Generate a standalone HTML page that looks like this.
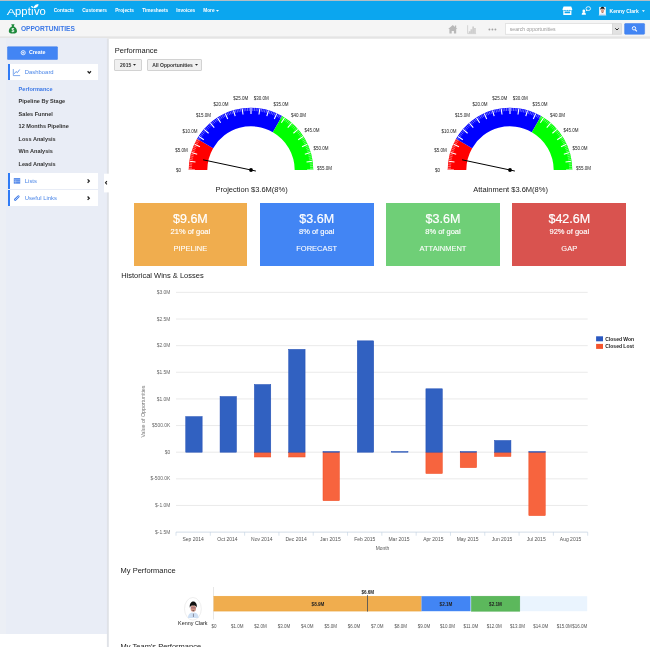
<!DOCTYPE html>
<html lang="en"><head><meta charset="utf-8"><title>Opportunities - Performance</title>
<style>
html,body{margin:0;padding:0}
#wrap{position:absolute;left:0;top:0;width:650px;height:647px;overflow:hidden;will-change:transform}
body{width:650px;height:647px;overflow:hidden;position:relative;background:#fff;font-family:"Liberation Sans",sans-serif;color:#222}
*{box-sizing:border-box}
.abs{position:absolute}
#top{left:0;top:0;width:650px;height:20px;background:#0ba6ef;border-top:1px solid #b3bec4}
#nav a{position:absolute;top:7px;height:7px;line-height:7px;font-size:4.75px;font-weight:bold;color:#fff;white-space:nowrap;text-decoration:none}
#sub{left:0;top:20px;width:650px;height:17px;background:#f5f5f5}
#side{left:0;top:38px;width:107px;height:596px;background:#e9edf6;border-left:6px solid #eceff5}
.create{z-index:2;left:7.4px;top:46px;width:50.1px;height:13px;color:#fff;font-size:5.3px;font-weight:bold;line-height:13.6px;text-align:left;padding-left:21.5px}
.mrow{left:7.5px;width:90.7px;background:#fff;border-left:2px solid #2f7bf6;color:#4a86e8;font-size:5.9px}
.mrow span{position:absolute;left:15.3px;top:0}
.sm{left:18.6px;height:8px;line-height:8px;font-size:5.55px;font-weight:bold;color:#333;white-space:nowrap}
.btn{top:58.6px;height:12.6px;background:#f0f0f0;border:0.7px solid #d2d2d2;border-radius:1px;font-size:5px;font-weight:bold;color:#333;line-height:11.4px;text-align:center;white-space:nowrap}
.car{display:inline-block;vertical-align:0.4px;margin-left:0.3px}
.h{font-size:7.5px;line-height:10px;height:10px;color:#1a1a1a;white-space:nowrap}
.tile{top:202.6px;width:113.8px;height:63.3px;color:#fff;text-align:center}
.tile b{display:block;position:absolute;left:0;width:100%;font-weight:normal;white-space:nowrap}
.tile .v{-webkit-text-stroke:0.2px #fff;top:9.1px;font-size:12.5px;line-height:15px}
.tile .p{-webkit-text-stroke:0.14px #fff;top:24.1px;font-size:7.5px;line-height:10px}
.tile .n{-webkit-text-stroke:0.08px #fff;top:41.8px;font-size:7.5px;line-height:10px}
svg text{font-family:"Liberation Sans",sans-serif}
</style></head><body>
<div id="wrap">

<div id="top" class="abs"></div>
<svg class="abs" style="left:0;top:0" width="120" height="20" viewBox="0 0 120 20">
 <text x="6.700" y="15.200" font-size="9.600" fill="#fff" textLength="8.800" lengthAdjust="spacingAndGlyphs">A</text>
 <text x="15.100" y="15.200" font-size="11.400" fill="#fff" textLength="30.700" lengthAdjust="spacingAndGlyphs">ppt&#305;vo</text>
 <path d="M33.900 8.300C33.500 6.200 35.400 4.300 38.500 4.100C38.600 6.600 36.700 8.200 33.900 8.300Z" fill="#fff"/>
 <path d="M30.900 6C32.600 5.900 33.700 6.800 33.700 8.100C32.200 8.100 31 7.400 30.900 6Z" fill="#fff"/>
</svg>
<div id="nav">
 <a style="left:53.7px">Contacts</a><a style="left:82.2px">Customers</a><a style="left:115.2px">Projects</a>
 <a style="left:142.2px">Timesheets</a><a style="left:176.2px">Invoices</a><a style="left:203.2px">More <svg class="car" width="3" height="2" viewBox="0 0 3 2"><path d="M0 0h3l-1.500 1.800z" fill="#fff"/></svg></a>
</div>
<svg class="abs" style="left:555px;top:0" width="95" height="20" viewBox="555 0 95 20">
 <!-- store -->
 <path d="M563.6 6.6h7.6l1.1 2.6c0 .9-.6 1.4-1.3 1.4-.6 0-1.2-.5-1.2-1.1 0 .6-.6 1.1-1.2 1.1s-1.2-.5-1.2-1.1c0 .6-.6 1.1-1.2 1.1s-1.2-.5-1.2-1.1c0 .6-.6 1.1-1.2 1.1-.7 0-1.3-.5-1.3-1.4zM563.3 11h8.1v3.9h-8.1zM564.6 11.6v1.7h5.5v-1.7z" fill="#fff" fill-rule="evenodd"/>
 <!-- user bubble -->
 <circle cx="583.800" cy="10.900" r="1.350" fill="#fff"/><path d="M581.700 14.700c0-1.800.900-2.600 2.100-2.600s2.100.800 2.100 2.600z" fill="#fff"/>
 <ellipse cx="588.3" cy="8.6" rx="2.3" ry="1.9" fill="none" stroke="#fff" stroke-width="0.8"/><path d="M586.4 9.8l-.9 1.6 1.9-.8z" fill="#fff"/>
 <!-- avatar -->
 <rect x="599.2" y="6.9" width="6.6" height="8.1" fill="#fff"/>
 <g transform="translate(602.500 11.300) scale(0.640)">
  <path d="M-6 6.6C-6 4.6 -3 3.6 0 3.6C3 3.6 6 4.6 6 6.6Z" fill="#cfe0f4"/>
  <ellipse cx="0" cy="-0.6" rx="2.6" ry="3.2" fill="#d9a08c"/>
  <path d="M-1.2 1.2Q0 3.4 1.2 1.2Q0 2 -1.2 1.2Z" fill="#3a2a25"/>
  <path d="M-3.5 -1.4C-3.9 -5.6 -1.6 -7.2 0 -7.2C1.6 -7.2 3.9 -5.6 3.5 -1.4C3 -3.4 2 -4 0 -4C-2 -4 -3 -3.4 -3.5 -1.4Z" fill="#111"/>
 </g>
 <text x="609.6" y="12.5" font-size="5" font-weight="bold" fill="#fff">Kenny Clark</text>
 <path d="M641.9 10.2h3l-1.5 1.7z" fill="#fff"/>
</svg>

<div id="sub" class="abs"></div>
<svg class="abs" style="left:0;top:20px" width="650" height="20" viewBox="0 20 650 20">
 <defs><linearGradient id="sh" x1="0" y1="0" x2="0" y2="1"><stop offset="0" stop-color="#dfdfdf"/><stop offset="1" stop-color="#ebebeb"/></linearGradient></defs>
 <rect x="0" y="36.500" width="650" height="2.400" fill="url(#sh)"/>
 <!-- money bag -->
 <path d="M11.2 24.2h3.4l-.9 2.1c2 1 3.3 3 3.3 4.9 0 1.700-1.300 2.400-4.100 2.400s-4.100-.700-4.100-2.400c0-1.900 1.300-3.900 3.300-4.900z" fill="#1e8a3c"/>
 <text x="12.9" y="32.2" font-size="5" font-weight="bold" fill="#fff" text-anchor="middle">$</text>
 <text x="20.9" y="30.6" font-size="6.6" font-weight="bold" fill="#3b78e7" textLength="54" lengthAdjust="spacingAndGlyphs">OPPORTUNITIES</text>
 <!-- home -->
 <path d="M452.800 25l2.100 1.900v-1.300h1.300v2.450l1.200 1.050h-1.200v4.500h-2.300v-2.700h-2.200v2.700h-2.300v-4.500h-1.200z" fill="#b9b9b9"/>
 <!-- chart -->
 <path d="M467.600 25.200v8.400h8.500" fill="none" stroke="#c8c8c8" stroke-width="0.700"/>
 <path d="M468.700 31.200h1.700v2.200h-1.700zM470.500 29.300h1.700v4.100h-1.700zM472.300 26.600h1.700v6.800h-1.700zM474.100 28h1.700v5.400h-1.700z" fill="#cecece"/>
 <circle cx="489.400" cy="29.500" r="0.950" fill="#a3a3a3"/><circle cx="492.400" cy="29.500" r="0.950" fill="#a3a3a3"/><circle cx="495.400" cy="29.500" r="0.950" fill="#a3a3a3"/>
 <!-- search -->
 <rect x="505.500" y="23.700" width="107" height="10.500" fill="#fff" stroke="#d6d6d6" stroke-width="0.6"/>
 <text x="509.800" y="30.600" font-size="5.100" fill="#999">search opportunities</text>
 <rect x="612.500" y="23.700" width="9" height="10.500" fill="#e2e2e2" stroke="#d0d0d0" stroke-width="0.600"/>
 <path d="M615.300 28.300l1.700 1.700 1.700-1.700" fill="none" stroke="#222" stroke-width="1"/>
 <rect x="624.600" y="23.500" width="20" height="10.800" rx="0.800" fill="#4285f4" stroke="#3b78e7" stroke-width="0.500"/>
 <circle cx="634" cy="28.300" r="1.700" fill="none" stroke="#fff" stroke-width="0.900"/><path d="M635.200 29.600l1.700 1.800" stroke="#fff" stroke-width="1.100"/>
</svg>

<div id="side" class="abs"></div>
<svg class="abs" style="left:105px;top:38px" width="5" height="609" viewBox="105 38 5 609"><rect x="106.900" y="38.800" width="1.900" height="609" fill="#dfe2e7"/></svg>
<div class="abs create">Create</div>
<div class="abs mrow" style="top:64.2px;height:16px;line-height:16px"><span>Dashboard</span></div>
<div class="abs mrow" style="top:173.400px;height:15.400px;line-height:17.400px"><span>Lists</span></div>
<div class="abs mrow" style="top:190px;height:16px;line-height:16.400px"><span>Useful Links</span></div>
<svg class="abs" style="left:0;top:40px" width="110" height="170" viewBox="0 40 110 170">
 <!-- create icon -->
 <rect x="7.500" y="46.700" width="50" height="12.800" rx="0.500" fill="#4285f4" stroke="#3b7bea" stroke-width="0.500"/>
 <circle cx="23.200" cy="52.700" r="2.100" fill="none" stroke="#fff" stroke-width="0.800"/><path d="M22.100 52.700h2.200M23.200 51.600v2.200" stroke="#fff" stroke-width="0.700"/>
 <!-- dashboard icon -->
 <path d="M13.300 69v6.600h6.800" fill="none" stroke="#4a86e8" stroke-width="0.7"/>
 <path d="M14.300 73.800l1.700-2.300 1.400 1.200 2.300-3.200" fill="none" stroke="#4a86e8" stroke-width="0.800"/>
 <path d="M87.600 71.300l1.700 1.700 1.700-1.700" fill="none" stroke="#222" stroke-width="1.250"/>
 <!-- lists icon -->
 <rect x="13.800" y="178.200" width="6.400" height="5.400" fill="#3b78e7"/>
 <path d="M13.800 179.900h6.400M13.800 181.800h6.400" stroke="#fff" stroke-width="0.550"/><path d="M15.700 179.900v3.700" stroke="#fff" stroke-width="0.250"/>
 <path d="M87.600 179.400l1.700 1.700-1.700 1.700" fill="none" stroke="#222" stroke-width="1.250"/>
 <!-- link icon -->
 <path d="M15.200 199.700l3.200-3.200" stroke="#3b78e7" stroke-width="2.400" stroke-linecap="round"/>
 <path d="M15.200 199.700l3.200-3.200" stroke="#fff" stroke-width="0.700" stroke-linecap="round"/>
 <path d="M87.600 196.500l1.700 1.700-1.700 1.700" fill="none" stroke="#222" stroke-width="1.250"/>
 <!-- collapse handle -->
 <rect x="104" y="173.700" width="5" height="18.700" fill="#fff"/>
 <path d="M106.900 181.200l-1.400 1.600 1.400 1.600" fill="none" stroke="#222" stroke-width="1.100"/>
</svg>
<div class="abs sm" style="top:84.600px;color:#3b78e7">Performance</div>
<div class="abs sm" style="top:97.100px">Pipeline By Stage</div>
<div class="abs sm" style="top:109.500px">Sales Funnel</div>
<div class="abs sm" style="top:122px">12 Months Pipeline</div>
<div class="abs sm" style="top:134.500px">Loss Analysis</div>
<div class="abs sm" style="top:146.900px">Win Analysis</div>
<div class="abs sm" style="top:159.600px">Lead Analysis</div>

<div class="abs h" style="left:114.800px;top:46px">Performance</div>
<div class="abs btn" style="left:114.400px;width:27.200px">2015 <svg class="car" width="3" height="2" viewBox="0 0 3 2"><path d="M0 0h3l-1.500 1.800z" fill="#222"/></svg></div>
<div class="abs btn" style="left:147.300px;width:55.200px">All Opportunities <svg class="car" width="3" height="2" viewBox="0 0 3 2"><path d="M0 0h3l-1.500 1.800z" fill="#222"/></svg></div>

<div class="abs tile" style="left:133.500px;background:#f0ad4e"><b class="v">$9.6M</b><b class="p">21% of goal</b><b class="n">PIPELINE</b></div>
<div class="abs tile" style="left:259.800px;background:#4285f4"><b class="v">$3.6M</b><b class="p">8% of goal</b><b class="n">FORECAST</b></div>
<div class="abs tile" style="left:386.100px;background:#6fcf77"><b class="v">$3.6M</b><b class="p">8% of goal</b><b class="n">ATTAINMENT</b></div>
<div class="abs tile" style="left:512.400px;background:#d9534f"><b class="v">$42.6M</b><b class="p">92% of goal</b><b class="n">GAP</b></div>

<div class="abs h" style="left:121.200px;top:270.700px">Historical Wins &amp; Losses</div>
<div class="abs h" style="left:120.600px;top:566px">My Performance</div>
<div class="abs h" style="left:120.600px;top:642.100px">My Team's Performance</div>

<svg class="abs" style="left:0;top:0" width="650" height="647" viewBox="0 0 650 647">
<path d="M188.70 170.00A62.3 62.3 0 0 1 197.05 138.85L213.15 148.15A43.7 43.7 0 0 0 207.30 170.00Z" fill="#ff0000"/>
<path d="M197.05 138.85A62.3 62.3 0 0 1 282.15 116.05L272.85 132.15A43.7 43.7 0 0 0 213.15 148.15Z" fill="#0000ff"/>
<path d="M282.15 116.05A62.3 62.3 0 0 1 313.30 170.00L294.70 170.00A43.7 43.7 0 0 0 272.85 132.15Z" fill="#00ff00"/>
<path d="M189.03 168.23L191.92 168.31M189.10 166.46L192.00 166.63M189.23 164.69L192.12 164.94M189.40 162.93L192.29 163.26M189.91 159.43L192.77 159.92M190.23 157.69L193.08 158.26M190.61 155.96L193.44 156.61M191.04 154.24L193.84 154.98M192.03 150.84L194.79 151.74M192.61 149.16L195.34 150.14M193.22 147.51L195.93 148.56M193.89 145.87L196.56 146.99M195.36 142.64L197.96 143.92M196.17 141.07L198.73 142.42M197.01 139.51L199.54 140.94M197.91 137.98L200.39 139.48M199.82 135.00L202.21 136.64M200.84 133.56L203.19 135.26M201.90 132.14L204.20 133.91M203.00 130.75L205.25 132.59M205.32 128.08L207.46 130.04M206.54 126.79L208.62 128.81M207.79 125.54L209.81 127.62M209.08 124.32L211.04 126.46M211.75 122.00L213.59 124.25M213.14 120.90L214.91 123.20M214.56 119.84L216.26 122.19M216.00 118.82L217.64 121.21M218.98 116.91L220.48 119.39M220.51 116.01L221.94 118.54M222.07 115.17L223.42 117.73M223.64 114.36L224.92 116.96M226.87 112.89L227.99 115.56M228.51 112.22L229.56 114.93M230.16 111.61L231.14 114.34M231.84 111.03L232.74 113.79M235.24 110.04L235.98 112.84M236.96 109.61L237.61 112.44M238.69 109.23L239.26 112.08M240.43 108.91L240.92 111.77M243.93 108.40L244.26 111.29M245.69 108.23L245.94 111.12M247.46 108.10L247.63 111.00M249.23 108.03L249.31 110.92M252.77 108.03L252.69 110.92M254.54 108.10L254.37 111.00M256.31 108.23L256.06 111.12M258.07 108.40L257.74 111.29M261.57 108.91L261.08 111.77M263.31 109.23L262.74 112.08M265.04 109.61L264.39 112.44M266.76 110.04L266.02 112.84M270.16 111.03L269.26 113.79M271.84 111.61L270.86 114.34M273.49 112.22L272.44 114.93M275.13 112.89L274.01 115.56M278.36 114.36L277.08 116.96M279.93 115.17L278.58 117.73M281.49 116.01L280.06 118.54M283.02 116.91L281.52 119.39M286.00 118.82L284.36 121.21M287.44 119.84L285.74 122.19M288.86 120.90L287.09 123.20M290.25 122.00L288.41 124.25M292.92 124.32L290.96 126.46M294.21 125.54L292.19 127.62M295.46 126.79L293.38 128.81M296.68 128.08L294.54 130.04M299.00 130.75L296.75 132.59M300.10 132.14L297.80 133.91M301.16 133.56L298.81 135.26M302.18 135.00L299.79 136.64M304.09 137.98L301.61 139.48M304.99 139.51L302.46 140.94M305.83 141.07L303.27 142.42M306.64 142.64L304.04 143.92M308.11 145.87L305.44 146.99M308.78 147.51L306.07 148.56M309.39 149.16L306.66 150.14M309.97 150.84L307.21 151.74M310.96 154.24L308.16 154.98M311.39 155.96L308.56 156.61M311.77 157.69L308.92 158.26M312.09 159.43L309.23 159.92M312.60 162.93L309.71 163.26M312.77 164.69L309.88 164.94M312.90 166.46L310.00 166.63M312.97 168.23L310.08 168.31" stroke="#fff" stroke-width="0.55" stroke-opacity="0.75" fill="none"/>
<path d="M189.00 170.00L194.90 170.00M189.63 161.18L195.47 162.02M191.51 152.53L197.17 154.19M194.60 144.24L199.97 146.70M198.84 136.48L203.81 139.67M204.14 129.40L208.60 133.26M210.40 123.14L214.26 127.60M217.48 117.84L220.67 122.81M225.24 113.60L227.70 118.97M233.53 110.51L235.19 116.17M242.18 108.63L243.02 114.47M251.00 108.00L251.00 113.90M259.82 108.63L258.98 114.47M268.47 110.51L266.81 116.17M276.76 113.60L274.30 118.97M284.52 117.84L281.33 122.81M291.60 123.14L287.74 127.60M297.86 129.40L293.40 133.26M303.16 136.48L298.19 139.67M307.40 144.24L302.03 146.70M310.49 152.53L304.83 154.19M312.37 161.18L306.53 162.02M313.00 170.00L307.10 170.00" stroke="#fff" stroke-width="1.1" fill="none"/>
<text x="178.60" y="172.05" font-size="4.5" text-anchor="middle" fill="#222">$0</text>
<text x="181.53" y="151.65" font-size="4.5" text-anchor="middle" fill="#222">$5.0M</text>
<text x="190.09" y="132.89" font-size="4.5" text-anchor="middle" fill="#222">$10.0M</text>
<text x="203.59" y="117.29" font-size="4.5" text-anchor="middle" fill="#222">$15.0M</text>
<text x="220.92" y="106.09" font-size="4.5" text-anchor="middle" fill="#222">$20.0M</text>
<text x="240.70" y="100.19" font-size="4.5" text-anchor="middle" fill="#222">$25.0M</text>
<text x="261.30" y="100.05" font-size="4.5" text-anchor="middle" fill="#222">$30.0M</text>
<text x="281.08" y="105.65" font-size="4.5" text-anchor="middle" fill="#222">$35.0M</text>
<text x="298.41" y="116.53" font-size="4.5" text-anchor="middle" fill="#222">$40.0M</text>
<text x="311.91" y="131.76" font-size="4.5" text-anchor="middle" fill="#222">$45.0M</text>
<text x="320.97" y="150.07" font-size="4.5" text-anchor="middle" fill="#222">$50.0M</text>
<text x="324.40" y="169.95" font-size="4.5" text-anchor="middle" fill="#222">$55.0M</text>
<path d="M203.07 159.81L255.89 171.04" stroke="#000" stroke-width="1"/>
<circle cx="251" cy="170" r="1.9" fill="#000"/>
<text x="251.6" y="192.3" font-size="7.5" text-anchor="middle" fill="#222">Projection $3.6M(8%)</text>
<path d="M447.70 170.00A62.3 62.3 0 0 1 456.05 138.85L472.15 148.15A43.7 43.7 0 0 0 466.30 170.00Z" fill="#ff0000"/>
<path d="M456.05 138.85A62.3 62.3 0 0 1 541.15 116.05L531.85 132.15A43.7 43.7 0 0 0 472.15 148.15Z" fill="#0000ff"/>
<path d="M541.15 116.05A62.3 62.3 0 0 1 572.30 170.00L553.70 170.00A43.7 43.7 0 0 0 531.85 132.15Z" fill="#00ff00"/>
<path d="M448.03 168.23L450.92 168.31M448.10 166.46L451.00 166.63M448.23 164.69L451.12 164.94M448.40 162.93L451.29 163.26M448.91 159.43L451.77 159.92M449.23 157.69L452.08 158.26M449.61 155.96L452.44 156.61M450.04 154.24L452.84 154.98M451.03 150.84L453.79 151.74M451.61 149.16L454.34 150.14M452.22 147.51L454.93 148.56M452.89 145.87L455.56 146.99M454.36 142.64L456.96 143.92M455.17 141.07L457.73 142.42M456.01 139.51L458.54 140.94M456.91 137.98L459.39 139.48M458.82 135.00L461.21 136.64M459.84 133.56L462.19 135.26M460.90 132.14L463.20 133.91M462.00 130.75L464.25 132.59M464.32 128.08L466.46 130.04M465.54 126.79L467.62 128.81M466.79 125.54L468.81 127.62M468.08 124.32L470.04 126.46M470.75 122.00L472.59 124.25M472.14 120.90L473.91 123.20M473.56 119.84L475.26 122.19M475.00 118.82L476.64 121.21M477.98 116.91L479.48 119.39M479.51 116.01L480.94 118.54M481.07 115.17L482.42 117.73M482.64 114.36L483.92 116.96M485.87 112.89L486.99 115.56M487.51 112.22L488.56 114.93M489.16 111.61L490.14 114.34M490.84 111.03L491.74 113.79M494.24 110.04L494.98 112.84M495.96 109.61L496.61 112.44M497.69 109.23L498.26 112.08M499.43 108.91L499.92 111.77M502.93 108.40L503.26 111.29M504.69 108.23L504.94 111.12M506.46 108.10L506.63 111.00M508.23 108.03L508.31 110.92M511.77 108.03L511.69 110.92M513.54 108.10L513.37 111.00M515.31 108.23L515.06 111.12M517.07 108.40L516.74 111.29M520.57 108.91L520.08 111.77M522.31 109.23L521.74 112.08M524.04 109.61L523.39 112.44M525.76 110.04L525.02 112.84M529.16 111.03L528.26 113.79M530.84 111.61L529.86 114.34M532.49 112.22L531.44 114.93M534.13 112.89L533.01 115.56M537.36 114.36L536.08 116.96M538.93 115.17L537.58 117.73M540.49 116.01L539.06 118.54M542.02 116.91L540.52 119.39M545.00 118.82L543.36 121.21M546.44 119.84L544.74 122.19M547.86 120.90L546.09 123.20M549.25 122.00L547.41 124.25M551.92 124.32L549.96 126.46M553.21 125.54L551.19 127.62M554.46 126.79L552.38 128.81M555.68 128.08L553.54 130.04M558.00 130.75L555.75 132.59M559.10 132.14L556.80 133.91M560.16 133.56L557.81 135.26M561.18 135.00L558.79 136.64M563.09 137.98L560.61 139.48M563.99 139.51L561.46 140.94M564.83 141.07L562.27 142.42M565.64 142.64L563.04 143.92M567.11 145.87L564.44 146.99M567.78 147.51L565.07 148.56M568.39 149.16L565.66 150.14M568.97 150.84L566.21 151.74M569.96 154.24L567.16 154.98M570.39 155.96L567.56 156.61M570.77 157.69L567.92 158.26M571.09 159.43L568.23 159.92M571.60 162.93L568.71 163.26M571.77 164.69L568.88 164.94M571.90 166.46L569.00 166.63M571.97 168.23L569.08 168.31" stroke="#fff" stroke-width="0.55" stroke-opacity="0.75" fill="none"/>
<path d="M448.00 170.00L453.90 170.00M448.63 161.18L454.47 162.02M450.51 152.53L456.17 154.19M453.60 144.24L458.97 146.70M457.84 136.48L462.81 139.67M463.14 129.40L467.60 133.26M469.40 123.14L473.26 127.60M476.48 117.84L479.67 122.81M484.24 113.60L486.70 118.97M492.53 110.51L494.19 116.17M501.18 108.63L502.02 114.47M510.00 108.00L510.00 113.90M518.82 108.63L517.98 114.47M527.47 110.51L525.81 116.17M535.76 113.60L533.30 118.97M543.52 117.84L540.33 122.81M550.60 123.14L546.74 127.60M556.86 129.40L552.40 133.26M562.16 136.48L557.19 139.67M566.40 144.24L561.03 146.70M569.49 152.53L563.83 154.19M571.37 161.18L565.53 162.02M572.00 170.00L566.10 170.00" stroke="#fff" stroke-width="1.1" fill="none"/>
<text x="437.60" y="172.05" font-size="4.5" text-anchor="middle" fill="#222">$0</text>
<text x="440.53" y="151.65" font-size="4.5" text-anchor="middle" fill="#222">$5.0M</text>
<text x="449.09" y="132.89" font-size="4.5" text-anchor="middle" fill="#222">$10.0M</text>
<text x="462.59" y="117.29" font-size="4.5" text-anchor="middle" fill="#222">$15.0M</text>
<text x="479.92" y="106.09" font-size="4.5" text-anchor="middle" fill="#222">$20.0M</text>
<text x="499.70" y="100.19" font-size="4.5" text-anchor="middle" fill="#222">$25.0M</text>
<text x="520.30" y="100.05" font-size="4.5" text-anchor="middle" fill="#222">$30.0M</text>
<text x="540.08" y="105.65" font-size="4.5" text-anchor="middle" fill="#222">$35.0M</text>
<text x="557.41" y="116.53" font-size="4.5" text-anchor="middle" fill="#222">$40.0M</text>
<text x="570.91" y="131.76" font-size="4.5" text-anchor="middle" fill="#222">$45.0M</text>
<text x="579.97" y="150.07" font-size="4.5" text-anchor="middle" fill="#222">$50.0M</text>
<text x="583.40" y="169.95" font-size="4.5" text-anchor="middle" fill="#222">$55.0M</text>
<path d="M462.07 159.81L514.89 171.04" stroke="#000" stroke-width="1"/>
<circle cx="510" cy="170" r="1.9" fill="#000"/>
<text x="510.6" y="192.3" font-size="7.5" text-anchor="middle" fill="#222">Attainment $3.6M(8%)</text>
<path d="M176.0 292.36H587.7" stroke="#e5e5e5" stroke-width="0.8"/>
<text x="170.3" y="293.96" font-size="4.9" text-anchor="end" fill="#666">$3.0M</text>
<path d="M176.0 319.00H587.7" stroke="#e5e5e5" stroke-width="0.8"/>
<text x="170.3" y="320.60" font-size="4.9" text-anchor="end" fill="#666">$2.5M</text>
<path d="M176.0 345.64H587.7" stroke="#e5e5e5" stroke-width="0.8"/>
<text x="170.3" y="347.24" font-size="4.9" text-anchor="end" fill="#666">$2.0M</text>
<path d="M176.0 372.28H587.7" stroke="#e5e5e5" stroke-width="0.8"/>
<text x="170.3" y="373.88" font-size="4.9" text-anchor="end" fill="#666">$1.5M</text>
<path d="M176.0 398.92H587.7" stroke="#e5e5e5" stroke-width="0.8"/>
<text x="170.3" y="400.52" font-size="4.9" text-anchor="end" fill="#666">$1.0M</text>
<path d="M176.0 425.56H587.7" stroke="#e5e5e5" stroke-width="0.8"/>
<text x="170.3" y="427.16" font-size="4.9" text-anchor="end" fill="#666">$500.0K</text>
<path d="M176.0 452.20H587.7" stroke="#e5e5e5" stroke-width="0.8"/>
<text x="170.3" y="453.80" font-size="4.9" text-anchor="end" fill="#666">$0</text>
<path d="M176.0 478.84H587.7" stroke="#e5e5e5" stroke-width="0.8"/>
<text x="170.3" y="480.44" font-size="4.9" text-anchor="end" fill="#666">$-500.0K</text>
<path d="M176.0 505.48H587.7" stroke="#e5e5e5" stroke-width="0.8"/>
<text x="170.3" y="507.08" font-size="4.9" text-anchor="end" fill="#666">$-1.0M</text>
<text x="170.3" y="533.72" font-size="4.9" text-anchor="end" fill="#666">$-1.5M</text>
<rect x="185.75" y="416.61" width="16.4" height="35.59" fill="#3161c1" stroke="#1f4cb4" stroke-width="0.5"/>
<rect x="220.06" y="396.52" width="16.4" height="55.68" fill="#3161c1" stroke="#1f4cb4" stroke-width="0.5"/>
<rect x="254.37" y="452.20" width="16.4" height="4.80" fill="#f7643e" stroke="#f2481f" stroke-width="0.5"/>
<rect x="254.37" y="384.53" width="16.4" height="67.67" fill="#3161c1" stroke="#1f4cb4" stroke-width="0.5"/>
<rect x="288.68" y="452.20" width="16.4" height="4.80" fill="#f7643e" stroke="#f2481f" stroke-width="0.5"/>
<rect x="288.68" y="349.37" width="16.4" height="102.83" fill="#3161c1" stroke="#1f4cb4" stroke-width="0.5"/>
<rect x="322.99" y="452.20" width="16.4" height="48.48" fill="#f7643e" stroke="#f2481f" stroke-width="0.5"/>
<rect x="322.99" y="451.56" width="16.4" height="0.64" fill="#3161c1" stroke="#1f4cb4" stroke-width="0.5"/>
<rect x="357.30" y="340.84" width="16.4" height="111.36" fill="#3161c1" stroke="#1f4cb4" stroke-width="0.5"/>
<rect x="391.60" y="451.56" width="16.4" height="0.64" fill="#3161c1" stroke="#1f4cb4" stroke-width="0.5"/>
<rect x="425.91" y="452.20" width="16.4" height="21.31" fill="#f7643e" stroke="#f2481f" stroke-width="0.5"/>
<rect x="425.91" y="388.80" width="16.4" height="63.40" fill="#3161c1" stroke="#1f4cb4" stroke-width="0.5"/>
<rect x="460.22" y="452.20" width="16.4" height="15.45" fill="#f7643e" stroke="#f2481f" stroke-width="0.5"/>
<rect x="460.22" y="451.56" width="16.4" height="0.64" fill="#3161c1" stroke="#1f4cb4" stroke-width="0.5"/>
<rect x="494.53" y="452.20" width="16.4" height="4.26" fill="#f7643e" stroke="#f2481f" stroke-width="0.5"/>
<rect x="494.53" y="440.48" width="16.4" height="11.72" fill="#3161c1" stroke="#1f4cb4" stroke-width="0.5"/>
<rect x="528.84" y="452.20" width="16.4" height="63.40" fill="#f7643e" stroke="#f2481f" stroke-width="0.5"/>
<rect x="528.84" y="451.56" width="16.4" height="0.64" fill="#3161c1" stroke="#1f4cb4" stroke-width="0.5"/>
<path d="M176.0 532.12H587.7" stroke="#c0d0e0" stroke-width="0.7"/>
<path d="M176.00 532.12v3.6M210.31 532.12v3.6M244.62 532.12v3.6M278.93 532.12v3.6M313.23 532.12v3.6M347.54 532.12v3.6M381.85 532.12v3.6M416.16 532.12v3.6M450.47 532.12v3.6M484.78 532.12v3.6M519.08 532.12v3.6M553.39 532.12v3.6M587.70 532.12v3.6" stroke="#c0d0e0" stroke-width="0.6"/>
<text x="193.15" y="541" font-size="5" text-anchor="middle" fill="#555">Sep 2014</text>
<text x="227.46" y="541" font-size="5" text-anchor="middle" fill="#555">Oct 2014</text>
<text x="261.77" y="541" font-size="5" text-anchor="middle" fill="#555">Nov 2014</text>
<text x="296.08" y="541" font-size="5" text-anchor="middle" fill="#555">Dec 2014</text>
<text x="330.39" y="541" font-size="5" text-anchor="middle" fill="#555">Jan 2015</text>
<text x="364.70" y="541" font-size="5" text-anchor="middle" fill="#555">Feb 2015</text>
<text x="399.00" y="541" font-size="5" text-anchor="middle" fill="#555">Mar 2015</text>
<text x="433.31" y="541" font-size="5" text-anchor="middle" fill="#555">Apr 2015</text>
<text x="467.62" y="541" font-size="5" text-anchor="middle" fill="#555">May 2015</text>
<text x="501.93" y="541" font-size="5" text-anchor="middle" fill="#555">Jun 2015</text>
<text x="536.24" y="541" font-size="5" text-anchor="middle" fill="#555">Jul 2015</text>
<text x="570.55" y="541" font-size="5" text-anchor="middle" fill="#555">Aug 2015</text>
<text x="382.5" y="549.5" font-size="4.9" text-anchor="middle" fill="#555">Month</text>
<text transform="translate(145 411.6) rotate(-90)" font-size="5.3" text-anchor="middle" fill="#777">Value of Opportunities</text>
<rect x="596.1" y="336.3" width="6.9" height="5" fill="#2a58c0"/>
<rect x="596.1" y="343.9" width="6.9" height="5" fill="#f4552e"/>
<text x="605.3" y="340.6" font-size="5" font-weight="bold" fill="#222">Closed Won</text>
<text x="605.3" y="348.2" font-size="5" font-weight="bold" fill="#222">Closed Lost</text>
<path d="M213.5 587V619.5" stroke="#ddd" stroke-width="0.7"/>
<rect x="213.5" y="596.2" width="373.70000000000005" height="15" fill="#eaf4fe"/>
<rect x="213.5" y="596.2" width="208.0" height="15" fill="#f0ad4e"/>
<path d="M213.5 596.45H421.5M213.5 610.95H421.5" stroke="#eea236" stroke-width="0.5"/>
<rect x="421.5" y="596.2" width="49" height="15" fill="#4285f4"/>
<rect x="471.4" y="596.2" width="48.4" height="15" fill="#5cb85c" stroke="#4cae4c" stroke-width="0.5"/>
<text x="318" y="605.7" font-size="4.6" font-weight="bold" text-anchor="middle" fill="#222">$8.9M</text>
<text x="446" y="605.7" font-size="4.6" font-weight="bold" text-anchor="middle" fill="#222">$2.1M</text>
<text x="495.5" y="605.7" font-size="4.6" font-weight="bold" text-anchor="middle" fill="#222">$2.1M</text>
<path d="M367.5 595.2V611.6" stroke="#555" stroke-width="0.9"/>
<text x="367.8" y="593.7" font-size="4.6" font-weight="bold" text-anchor="middle" fill="#222">$6.6M</text>
<text x="213.90" y="627.9" font-size="4.5" text-anchor="middle" fill="#555">$0</text>
<text x="237.25" y="627.9" font-size="4.5" text-anchor="middle" fill="#555">$1.0M</text>
<text x="260.61" y="627.9" font-size="4.5" text-anchor="middle" fill="#555">$2.0M</text>
<text x="283.96" y="627.9" font-size="4.5" text-anchor="middle" fill="#555">$3.0M</text>
<text x="307.32" y="627.9" font-size="4.5" text-anchor="middle" fill="#555">$4.0M</text>
<text x="330.67" y="627.9" font-size="4.5" text-anchor="middle" fill="#555">$5.0M</text>
<text x="354.03" y="627.9" font-size="4.5" text-anchor="middle" fill="#555">$6.0M</text>
<text x="377.38" y="627.9" font-size="4.5" text-anchor="middle" fill="#555">$7.0M</text>
<text x="400.74" y="627.9" font-size="4.5" text-anchor="middle" fill="#555">$8.0M</text>
<text x="424.09" y="627.9" font-size="4.5" text-anchor="middle" fill="#555">$9.0M</text>
<text x="447.45" y="627.9" font-size="4.5" text-anchor="middle" fill="#555">$10.0M</text>
<text x="470.81" y="627.9" font-size="4.5" text-anchor="middle" fill="#555">$11.0M</text>
<text x="494.16" y="627.9" font-size="4.5" text-anchor="middle" fill="#555">$12.0M</text>
<text x="517.51" y="627.9" font-size="4.5" text-anchor="middle" fill="#555">$13.0M</text>
<text x="540.87" y="627.9" font-size="4.5" text-anchor="middle" fill="#555">$14.0M</text>
<text x="564.23" y="627.9" font-size="4.5" text-anchor="middle" fill="#555">$15.0M</text>
<text x="587.3" y="627.9" font-size="4.5" text-anchor="end" fill="#555">$16.0M</text>
<ellipse cx="192.9" cy="608.8" rx="8.4" ry="11.3" fill="#fff" stroke="#e3e3e3" stroke-width="0.6"/>
<g transform="translate(193.3 608.9) scale(1.0)">
<path d="M-5.3 9C-5.3 5.200 -3 3.600 0 3.600C3 3.600 5.300 5.200 5.300 9Z" fill="#cfe0f4"/>
<path d="M-1 3.4L0 5.2L1 3.4Z" fill="#fff"/>
<path d="M-0.35 4.6h0.7v3.6h-0.7z" fill="#667"/>
<ellipse cx="0" cy="-0.400" rx="2.700" ry="3.300" fill="#cf9486"/>
<rect x="-2.400" y="-1.500" width="4.800" height="0.900" fill="#6a3a5a" opacity="0.550"/>
<path d="M-1.2 1.2Q0 3.4 1.2 1.2Q0 2 -1.2 1.2Z" fill="#3a2a25"/>
<path d="M-3.500 -1.200C-4 -5.600 -1.700 -7.300 0 -7.300C1.700 -7.300 4 -5.600 3.500 -1.200C3.100 -2.800 2 -3.400 0 -3.400C-2 -3.400 -3.100 -2.800 -3.500 -1.200Z" fill="#111"/>
</g>
<text x="192.8" y="625.3" font-size="5.4" text-anchor="middle" fill="#222">Kenny Clark</text>
</svg>
</div>
</body></html>
